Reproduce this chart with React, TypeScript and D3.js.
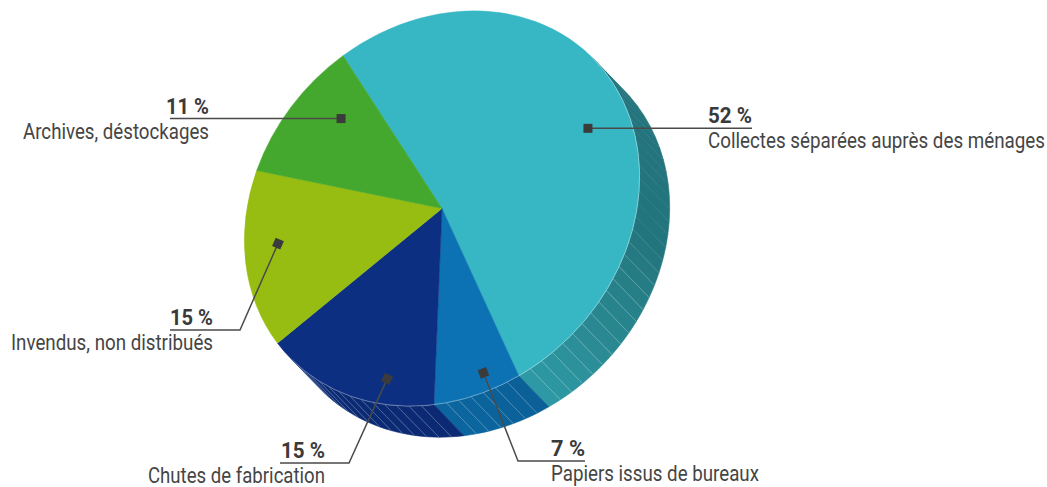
import React from "react";
import * as d3 from "d3";

// ---- data ----
const categories = [
  "Collectes séparées auprès des ménages",
  "Papiers issus de bureaux",
  "Chutes de fabrication",
  "Invendus, non distribués",
  "Archives, déstockages",
];
const values = [52, 7, 15, 15, 11];
const percentLabels = ["52 %", "7 %", "15 %", "15 %", "11 %"];
const colors = ["#37b7c4", "#0d72b3", "#0c2f81", "#98bd12", "#44a72e"];

// ---- layout / style ----
const W = 1047;
const H = 487;
const CX = 442;
const CY = 208.5;
const A = 213; // semi-axis across the tilt (NE-SW)
const B = 181; // foreshortened semi-axis (NW-SE), along the extrusion
const K = B / A;
const DEPTH = { x: 30, y: 31 };
const START_DEG = -34.7;
const deg = Math.PI / 180;
const SX = 0.86; // horizontal condensing of label glyphs

// label layout: marker polar nudges (disk space) and label anchor placements
const labelLayout = [
  { dAngle: 5.0, rad: 169, elbow: null, lineEnd: 752, textX: 708, side: "start", pctW: 44, nameW: 337 },
  { dAngle: -3.2, rad: 192, elbow: [518, 461], lineEnd: 585, textX: 551, side: "start", pctW: 34, nameW: 208 },
  { dAngle: -10.8, rad: 186, elbow: [349, 463], lineEnd: 280, textX: 325, side: "end", pctW: 44, nameW: 177 },
  { dAngle: 3.6, rad: 177, elbow: [240, 330], lineEnd: 170, textX: 213, side: "end", pctW: 43, nameW: 202 },
  { dAngle: 6.7, rad: 159, elbow: null, lineEnd: 170, textX: 209, side: "end", pctW: 43, nameW: 186 },
];

const FONT = "Roboto, 'Liberation Sans', sans-serif";

// project a disk-space point (angle clockwise from top, radius) onto the tilted ellipse
function pt(theta: number, r: number, off = { x: 0, y: 0 }): [number, number] {
  const x = r * Math.sin(theta);
  const y = -r * Math.cos(theta);
  const s = Math.SQRT1_2;
  const p = (x + y) * s * K;
  const q = (y - x) * s;
  return [CX + (p - q) * s + off.x, CY + (p + q) * s + off.y];
}

function arcTo(p: [number, number], sweep: number) {
  return `A${B},${A} 45 0 ${sweep} ${p[0]},${p[1]}`;
}

function Label(props: {
  x: number;
  y: number;
  w: number;
  text: string;
  weight: number;
  size: number;
  fill: string;
}) {
  const { x, y, w, text, weight, size, fill } = props;
  return (
    <text
      transform={`translate(${x},${y}) scale(${SX},1)`}
      x={0}
      y={0}
      fontFamily={FONT}
      fontWeight={weight}
      fontSize={size}
      fill={fill}
      textLength={w / SX}
      lengthAdjust="spacingAndGlyphs"
    >
      {text}
    </text>
  );
}

export default function App() {
  const pie = d3
    .pie<number>()
    .sort(null)
    .value((d) => d)
    .startAngle(START_DEG * deg)
    .endAngle((START_DEG + 360) * deg);
  const arcs = pie(values);
  const arcGen = d3.arc<d3.PieArcDatum<number>>().innerRadius(0).outerRadius(A);

  // front-facing range of the side: extrusion runs along the minor axis
  const vis0 = 45 * deg;
  const vis1 = 225 * deg;

  const kScale = d3
    .scaleLinear()
    .domain([40, 100, 150, 175, 240])
    .range([1.3, 1.25, 0.5, 0.33, 0.25])
    .clamp(true);
  const hatchOpacity = d3.scaleLinear().domain([95, 112]).range([0, 0.3]).clamp(true);

  const step = 3.8 * deg;
  const sideQuads: { d: string; fill: string }[] = [];
  const hatches: { x1: number; y1: number; x2: number; y2: number; op: number }[] = [];

  arcs.forEach((a, i) => {
    const b0 = Math.max(a.startAngle, vis0);
    const b1 = Math.min(a.endAngle, vis1);
    if (b1 <= b0) return;
    const n = Math.max(1, Math.ceil((b1 - b0) / step));
    const s = (b1 - b0) / n;
    for (let j = 0; j < n; j++) {
      const t1 = b0 + j * s;
      const t2 = t1 + s;
      const p1 = pt(t1, A);
      const p2 = pt(t2, A);
      const q2 = pt(t2, A, DEPTH);
      const q1 = pt(t1, A, DEPTH);
      const path = `M${p1[0]},${p1[1]} ${arcTo(p2, 1)} L${q2[0]},${q2[1]} ${arcTo(q1, 0)} Z`;
      const mid = (t1 + t2) / 2 / deg;
      const fill = d3.rgb(colors[i]).darker(kScale(mid)).formatHex();
      sideQuads.push({ d: path, fill });
      if (j > 0) {
        hatches.push({ x1: p1[0], y1: p1[1], x2: q1[0], y2: q1[1], op: hatchOpacity(t1 / deg) });
      }
    }
  });

  const r0 = pt(vis0, A);
  const rm = pt((vis0 + vis1) / 2, A);
  const r1 = pt(vis1, A);
  const rimPath = `M${r0[0]},${r0[1]} ${arcTo(rm, 1)} ${arcTo(r1, 1)}`;

  const labels = arcs.map((a, i) => {
    const L = labelLayout[i];
    const mid = (a.startAngle + a.endAngle) / 2 + L.dAngle * deg;
    const m = pt(mid, L.rad);
    const pts: [number, number][] = [m];
    let lineY = m[1];
    if (L.elbow) {
      pts.push([L.elbow[0], L.elbow[1]]);
      lineY = L.elbow[1];
    }
    pts.push([L.lineEnd, lineY]);
    const first = pts[1];
    const ang = (Math.atan2(first[1] - m[1], first[0] - m[0]) * 180) / Math.PI;
    const pctX = L.side === "start" ? L.textX : L.textX - L.pctW;
    const nameX = L.side === "start" ? L.textX : L.textX - L.nameW;
    return { m, pts, lineY, ang, pctX, nameX, L, i };
  });

  return (
    <svg width={W} height={H} style={{ position: "absolute", left: 0, top: 0, background: "#fff" }}>
      {/* side of the extruded pie */}
      <g>
        {sideQuads.map((q, k) => (
          <path key={k} d={q.d} fill={q.fill} stroke={q.fill} strokeWidth={0.6} />
        ))}
        {hatches.map((h, k) => (
          <line
            key={k}
            x1={h.x1}
            y1={h.y1}
            x2={h.x2}
            y2={h.y2}
            stroke="#ffffff"
            strokeOpacity={h.op}
            strokeWidth={0.8}
          />
        ))}
      </g>
      {/* top face: circular pie squashed along the tilt direction */}
      <g transform={`translate(${CX},${CY}) rotate(45) scale(${K},1) rotate(-45)`}>
        {arcs.map((a, i) => (
          <path
            key={i}
            d={arcGen(a) || ""}
            fill={colors[i]}
            stroke={colors[i]}
            strokeWidth={0.5}
            vectorEffect="non-scaling-stroke"
          />
        ))}
      </g>
      <path d={rimPath} fill="none" stroke="#ffffff" strokeOpacity={0.35} strokeWidth={1} />
      {/* labels */}
      {labels.map((lb) => (
        <g key={lb.i}>
          <polyline
            points={lb.pts.map((p) => p.join(",")).join(" ")}
            fill="none"
            stroke="#4a4a4a"
            strokeWidth={1.5}
          />
          <rect
            x={-4.5}
            y={-4.5}
            width={9}
            height={9}
            fill="#3b3b3b"
            transform={`translate(${lb.m[0]},${lb.m[1]}) rotate(${lb.ang})`}
          />
          <Label
            x={lb.pctX}
            y={lb.lineY - 5}
            w={lb.L.pctW}
            text={percentLabels[lb.i]}
            weight={700}
            size={21.5}
            fill="#3a3a3a"
          />
          <Label
            x={lb.nameX}
            y={lb.lineY + 20}
            w={lb.L.nameW}
            text={categories[lb.i]}
            weight={400}
            size={21.5}
            fill="#454545"
          />
        </g>
      ))}
    </svg>
  );
}
